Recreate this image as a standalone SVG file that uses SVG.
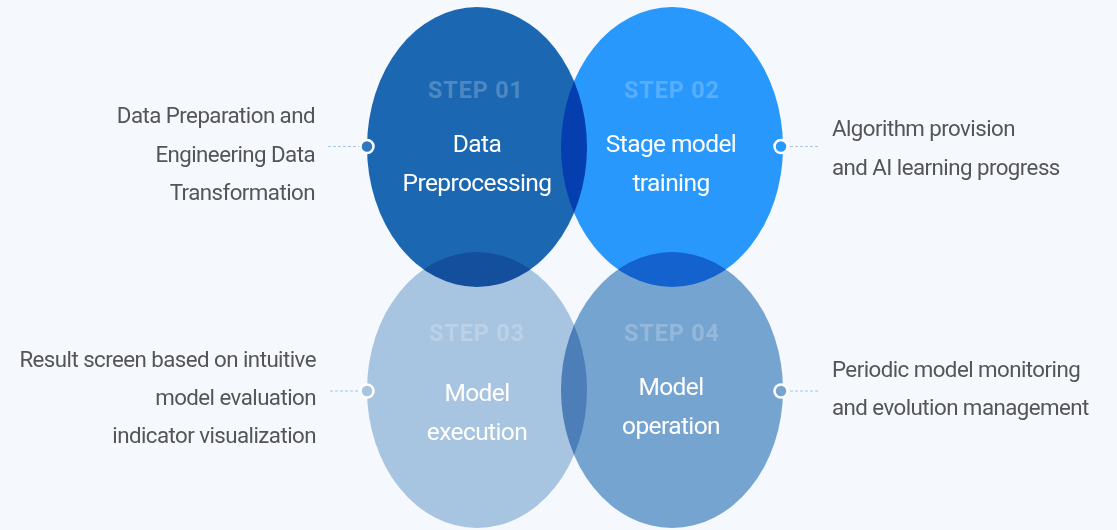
<svg xmlns="http://www.w3.org/2000/svg" width="1117" height="530" viewBox="0 0 1117 530">
<style>
.bg{fill:#f5f9fe}
.c{mix-blend-mode:multiply}
.step{font-family:Roboto,"Liberation Sans",sans-serif;font-weight:700;font-size:23.5px;letter-spacing:0.8px;fill:#fff;fill-opacity:.22;text-anchor:middle}
.lbl{font-family:Roboto,"Liberation Sans",sans-serif;font-size:24.5px;letter-spacing:-0.6px;fill:#fff;text-anchor:middle}
.side{font-family:Roboto,"Liberation Sans",sans-serif;font-size:22.3px;letter-spacing:-0.55px;fill:#555}
.l{text-anchor:end}
.dash{stroke:#a9c6e8;stroke-width:1.2;stroke-dasharray:3 2;fill:none}
.dot{stroke:#fff;stroke-width:2.5}
</style>
<rect class="bg" x="0" y="0" width="1117" height="530"/>
<g style="isolation:isolate">
<g id="step1"><ellipse class="c" cx="477" cy="147" rx="110" ry="140" fill="#1c67b1"/></g>
<g id="step2"><ellipse class="c" cx="672" cy="147" rx="111" ry="140" fill="#2998fc"/></g>
<g id="step3"><ellipse class="c" cx="477" cy="390" rx="110" ry="138" fill="#a7c4e1"/></g>
<g id="step4"><ellipse class="c" cx="672" cy="390" rx="111" ry="138" fill="#76a4d0"/></g>
</g>
<g id="texts">
<text class="step" x="476" y="98">STEP 01</text>
<text class="lbl" x="477" y="152">Data</text>
<text class="lbl" x="477" y="191">Preprocessing</text>
<text class="step" x="672" y="98">STEP 02</text>
<text class="lbl" x="671" y="152">Stage model</text>
<text class="lbl" x="671" y="191">training</text>
<text class="step" x="477" y="341">STEP 03</text>
<text class="lbl" x="477" y="401">Model</text>
<text class="lbl" x="477" y="440">execution</text>
<text class="step" x="672" y="341">STEP 04</text>
<text class="lbl" x="671" y="395">Model</text>
<text class="lbl" x="671" y="434">operation</text>
</g>
<g id="connectors">
<line class="dash" x1="328" y1="146.5" x2="360" y2="146.5"/>
<line class="dash" x1="790" y1="146.5" x2="820" y2="146.5"/>
<line class="dash" x1="330" y1="391" x2="360" y2="391"/>
<line class="dash" x1="790" y1="391" x2="820" y2="391"/>
<circle class="dot" cx="367" cy="146.5" r="6.5" fill="#2e78c2"/>
<circle class="dot" cx="781" cy="146.5" r="6.5" fill="#2998fc"/>
<circle class="dot" cx="367" cy="391" r="6.5" fill="#a7c4e1"/>
<circle class="dot" cx="781" cy="391" r="6.5" fill="#76a4d0"/>
</g>
<g id="desc1">
<text class="side l" x="315" y="123">Data Preparation and</text>
<text class="side l" x="315" y="162">Engineering Data</text>
<text class="side l" x="315" y="200">Transformation</text>
</g>
<g id="desc2">
<text class="side" x="832" y="136">Algorithm provision</text>
<text class="side" x="832" y="175">and AI learning progress</text>
</g>
<g id="desc3">
<text class="side l" x="316" y="367">Result screen based on intuitive</text>
<text class="side l" x="316" y="405">model evaluation</text>
<text class="side l" x="316" y="443">indicator visualization</text>
</g>
<g id="desc4">
<text class="side" x="832" y="377">Periodic model monitoring</text>
<text class="side" x="832" y="415">and evolution management</text>
</g>
</svg>
